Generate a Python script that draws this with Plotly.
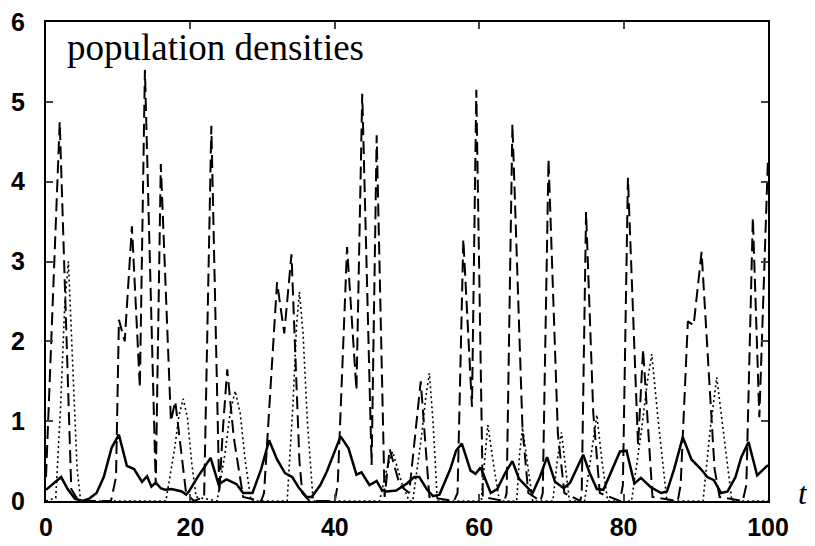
import plotly.graph_objects as go

# solid curve
solid_t = [0, 1, 2.1, 3, 4, 5, 6, 7, 8, 9.1, 10.1, 11.2, 12.2, 13.3, 14.0, 14.6, 15.2, 15.9, 16.5, 17.4,
           18.8, 19.4, 19.8, 21, 22.8, 23.9, 25, 26.4, 27.3, 28.6, 29.8, 30.9, 32, 33.1, 34.1, 35, 36.1,
           36.8, 38, 38.9, 40.8, 41.9, 43, 43.7, 44.8, 45.8, 46.5, 47.2, 48.5, 50, 51, 51.7, 52.8, 53.6,
           54.5, 56, 56.8, 57.6, 58.8, 59.5, 60.2, 61.6, 62.5, 63.6, 64.6, 65.5, 66.7, 67.4, 68.4, 69.4,
           70.5, 71.7, 72.6, 74.4, 75.3, 76.3, 77.2, 78.4, 79.5, 80.4, 81.5, 82.4, 83.8, 85.2, 86, 87,
           88.2, 89.4, 90.7, 91.6, 92.5, 93.5, 94.4, 95.5, 96.3, 97.3, 98.5, 99.4, 100]
solid_v = [0.14, 0.22, 0.3, 0.15, 0.03, 0.0, 0.03, 0.1, 0.3, 0.67, 0.83, 0.44, 0.4, 0.24, 0.31, 0.18, 0.23,
           0.16, 0.14, 0.15, 0.12, 0.08, 0.12, 0.3, 0.54, 0.21, 0.27, 0.21, 0.1, 0.1, 0.4, 0.76, 0.52, 0.35,
           0.3, 0.17, 0.05, 0.05, 0.2, 0.37, 0.81, 0.66, 0.33, 0.36, 0.2, 0.25, 0.14, 0.12, 0.13, 0.22, 0.3,
           0.3, 0.14, 0.06, 0.08, 0.4, 0.63, 0.72, 0.38, 0.34, 0.42, 0.1, 0.15, 0.35, 0.5, 0.28, 0.17, 0.1,
           0.3, 0.55, 0.24, 0.16, 0.23, 0.58, 0.35, 0.15, 0.14, 0.38, 0.62, 0.63, 0.22, 0.29, 0.17, 0.1,
           0.12, 0.4, 0.8, 0.52, 0.4, 0.3, 0.26, 0.1, 0.12, 0.3, 0.55, 0.74, 0.32, 0.4, 0.45]

# dashed curve
dash_t = [0, 1.9, 3.5, 4.5, 9.0, 9.7, 10.1, 10.9, 11.9, 13.0, 13.7, 15.2, 15.9, 17.3, 17.9, 19.4, 20.5,
          21.9, 22.9, 24.0, 24.5, 25.1, 26.0, 27.3, 29.8, 30.2, 32.0, 33.0, 34.0, 35.1, 35.5, 36.5, 40.0,
          40.4, 41.7, 43.0, 43.8, 45.1, 45.8, 46.9, 47.6, 49.0, 50.3, 51.9, 53.1, 56.5, 57.0, 57.8, 59.0,
          59.6, 60.5, 63.5, 63.8, 64.6, 66.0, 66.8, 68.5, 68.8, 69.6, 70.9, 71.8, 74.0, 74.2, 74.8, 75.8,
          76.7, 79.5, 79.9, 80.6, 82.0, 82.7, 84.0, 87.5, 87.9, 88.9, 89.7, 90.8, 92.6, 93.3, 96.5, 97.0,
          97.9, 98.8, 100]
dash_v = [0.3, 4.75, 0.15, 0.0, 0.0, 0.3, 2.27, 2.0, 3.44, 1.42, 5.4, 0.2, 4.22, 1.0, 1.25, 0.1, 0.0,
          0.05, 4.7, 0.1, 0.9, 1.65, 0.8, 0.05, 0.0, 0.1, 2.74, 2.1, 3.09, 0.5, 0.1, 0.0, 0.0,
          0.2, 3.18, 1.39, 5.1, 0.45, 4.58, 0.05, 0.65, 0.2, 0.1, 1.5, 0.05, 0.0, 0.1, 3.28, 1.18,
          5.15, 0.05, 0.0, 0.1, 4.72, 0.9, 0.1, 0.0, 0.1, 4.28, 0.84, 0.1, 0.0, 0.1, 3.62, 1.1,
          0.1, 0.0, 0.2, 4.05, 0.7, 1.9, 0.05, 0.0, 0.2, 2.25, 2.2, 3.12, 0.4, 0.05, 0.0, 0.2,
          3.55, 1.05, 4.3]

# dotted curve
dot_t = [0, 1.35, 2.0, 2.6, 3.1, 3.4, 3.9, 4.3, 4.8, 16.6, 17.8, 18.4, 19.0, 19.6, 20.2, 20.8,
         23.7, 24.8, 25.5, 26.2, 26.9, 27.6, 28.4, 33.4, 34.2, 34.7, 35.1, 35.6, 36.2, 37.0,
         46.2, 47.2, 48.0, 49.3, 50.3, 50.8, 52.0, 52.6, 53.1, 53.6, 54.2, 60.3, 60.8, 61.2, 62.0, 62.8,
         65.2, 65.6, 66.0, 66.7, 67.4, 70.2, 70.8, 71.4, 72.0, 72.5, 74.6, 75.5, 76.3, 77.0, 77.8,
         81.1, 82.5, 83.3, 83.9, 84.8, 86.0, 91.0, 92.0, 92.9, 93.9, 95.0, 100]
dot_v = [0, 0.04, 1.15, 2.46, 3.0, 2.38, 1.36, 0.41, 0.0, 0.0, 0.65, 1.06, 1.28, 1.04, 0.46, 0.05,
         0.0, 0.6, 1.1, 1.38, 1.1, 0.5, 0.0, 0.0, 1.2, 2.2, 2.62, 2.1, 1.0, 0.0,
         0.0, 0.4, 0.62, 0.22, 0.0, 0.0, 0.8, 1.3, 1.6, 1.0, 0.0, 0.0, 0.55, 0.95, 0.45, 0.0,
         0.0, 0.6, 0.92, 0.45, 0.0, 0.0, 0.5, 0.86, 0.4, 0.0, 0.0, 0.6, 1.08, 0.5, 0.0,
         0.0, 0.9, 1.5, 1.84, 1.0, 0.0, 0.0, 0.9, 1.55, 0.8, 0.0, 0.0]

fig = go.Figure()
fig.add_trace(go.Scatter(x=dash_t, y=dash_v, mode="lines",
                         line=dict(color="black", width=2, dash="13px,6px")))
fig.add_trace(go.Scatter(x=dot_t, y=dot_v, mode="lines",
                         line=dict(color="black", width=1.6, dash="2px,3px")))
fig.add_trace(go.Scatter(x=solid_t, y=solid_v, mode="lines",
                         line=dict(color="black", width=2.5)))

# page body has an 8px margin, so the figure is a bit smaller and shifted
tickfont = dict(family="Liberation Sans", size=25, color="black", weight="bold")
fig.update_layout(
    width=807, height=538,
    margin=dict(l=38, r=47, t=14, b=45),
    paper_bgcolor="white", plot_bgcolor="white",
    showlegend=False,
    xaxis=dict(range=[0, 100], tickvals=[0, 20, 40, 60, 80, 100], ticks="inside", ticklen=7,
               tickwidth=1.5, showline=True, linewidth=2, linecolor="black", mirror="ticks",
               showgrid=False, zeroline=False, tickfont=tickfont, ticklabelstandoff=3,
               automargin=False, ticklabeloverflow="allow"),
    yaxis=dict(range=[0, 6], tickvals=[0, 1, 2, 3, 4, 5, 6], ticks="inside", ticklen=7,
               tickwidth=1.5, showline=True, linewidth=2, linecolor="black", mirror="ticks",
               showgrid=False, zeroline=False, tickfont=tickfont, ticklabelstandoff=14,
               automargin=False, ticklabeloverflow="allow"),
    annotations=[
        dict(text="population densities", xref="paper", yref="paper", x=0.026, y=0.946,
             xanchor="left", yanchor="middle", showarrow=False,
             font=dict(family="Liberation Serif", size=37, color="black")),
        dict(text="<i>t</i>", xref="paper", yref="paper", x=1.058, y=0.017,
             xanchor="right", yanchor="middle", showarrow=False,
             font=dict(family="Liberation Serif", size=32, color="black")),
    ],
)

fig.write_html("out.html")
